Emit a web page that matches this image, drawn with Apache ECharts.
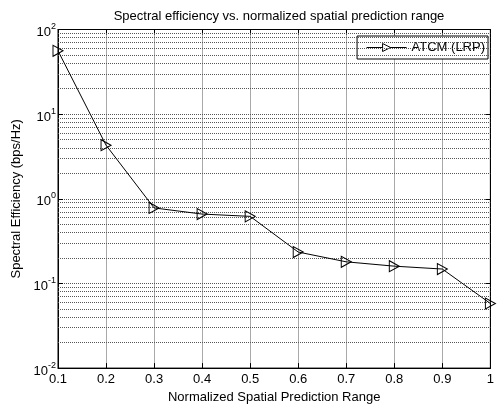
<!DOCTYPE html>
<html>
<head>
<meta charset="utf-8">
<script src="https://cdn.jsdelivr.net/npm/echarts@6/dist/echarts.min.js"></script>
<style>
  html, body { margin: 0; padding: 0; background: #fff; }
  #chart { width: 497px; height: 409px; }
</style>
</head>
<body>
<div id="chart"></div>
<script>
// Normalized spatial prediction range (x) and spectral efficiency (bps/Hz)
const rangeValues = [0.1, 0.2, 0.3, 0.4, 0.5, 0.6, 0.7, 0.8, 0.9, 1.0];
const efficiency = [56, 4.3, 0.78, 0.66, 0.62, 0.235, 0.18, 0.16, 0.148, 0.058];
const seriesName = 'ATCM (LRP)';

// Log-axis decades and the intermediate (2..9) gridline multipliers
const decadeExponents = [-2, -1, 0, 1];
const minorMultipliers = [2, 3, 4, 5, 6, 7, 8, 9];

const FONT = 'Liberation Sans, Arial, Helvetica, sans-serif';
const GRID_STYLE = { color: '#555', width: 1, type: [1, 1] };

const minorGridLines = [];
decadeExponents.forEach(function (e) {
  minorMultipliers.forEach(function (m) {
    minorGridLines.push({ yAxis: m * Math.pow(10, e) });
  });
});

const points = rangeValues.map(function (x, i) { return [x, efficiency[i]]; });

const chart = echarts.init(document.getElementById('chart'), null, { renderer: 'canvas' });

chart.setOption({
  animation: false,
  backgroundColor: '#fff',
  textStyle: { fontFamily: FONT },
  title: {
    text: 'Spectral efficiency vs. normalized spatial prediction range',
    left: 274,
    top: 5,
    textAlign: 'center',
    textStyle: { fontSize: 13, fontWeight: 'normal', color: '#000', fontFamily: FONT }
  },
  legend: {
    data: [seriesName],
    right: 9,
    top: 36,
    orient: 'vertical',
    backgroundColor: '#fff',
    borderColor: '#000',
    borderWidth: 1,
    borderRadius: 0,
    padding: [5, 3, 5, 9],
    itemWidth: 40,
    itemHeight: 10,
    itemGap: 0,
    itemStyle: { color: '#fff', borderColor: '#000', borderWidth: 1 },
    lineStyle: { color: '#000', width: 1 },
    textStyle: { fontSize: 13, color: '#000', fontFamily: FONT }
  },
  grid: {
    left: 58,
    right: 6,
    top: 29.5,
    bottom: 38.5,
    show: true,
    borderColor: '#000',
    borderWidth: 1,
    backgroundColor: '#fff'
  },
  xAxis: [{
    type: 'value',
    min: 0.1,
    max: 1,
    interval: 0.1,
    name: 'Normalized Spatial Prediction Range',
    nameLocation: 'middle',
    nameGap: 21,
    nameTextStyle: { fontSize: 13, color: '#000', fontFamily: FONT },
    axisLine: { show: true, lineStyle: { color: '#000', width: 1 } },
    axisTick: { show: true, inside: true, length: 5, lineStyle: { color: '#000' } },
    axisLabel: {
      fontSize: 13, color: '#000', margin: 5, fontFamily: FONT,
      formatter: function (v) { return v === 1 ? '1' : v.toFixed(1); }
    },
    splitLine: { show: true, lineStyle: GRID_STYLE }
  }, {
    type: 'value',
    position: 'top',
    min: 0.1,
    max: 1,
    interval: 0.1,
    axisLine: { show: true, lineStyle: { color: '#000', width: 1 } },
    axisTick: { show: true, inside: true, length: 5, lineStyle: { color: '#000' } },
    axisLabel: { show: false },
    splitLine: { show: false }
  }],
  yAxis: [{
    type: 'log',
    logBase: 10,
    min: 0.01,
    max: 100,
    interval: 1,
    name: 'Spectral Efficiency (bps/Hz)',
    nameLocation: 'middle',
    nameGap: 32,
    nameTextStyle: { fontSize: 13, color: '#000', fontFamily: FONT },
    axisLine: { show: true, lineStyle: { color: '#000', width: 1 } },
    axisTick: { show: true, inside: true, length: 5, lineStyle: { color: '#000' } },
    axisLabel: {
      margin: 2,
      fontFamily: FONT,
      formatter: function (v) {
        const e = Math.round(Math.log10(v));
        return '{base|10}{sup|' + e + '}';
      },
      rich: {
        base: { fontSize: 13, color: '#000', fontFamily: FONT, lineHeight: 15, padding: [6, 0, 0, 0] },
        sup: { fontSize: 9, color: '#000', fontFamily: FONT, lineHeight: 11, verticalAlign: 'top' }
      }
    },
    splitLine: { show: true, lineStyle: GRID_STYLE }
  }, {
    type: 'log',
    logBase: 10,
    min: 0.01,
    max: 100,
    interval: 1,
    position: 'right',
    axisLine: { show: true, lineStyle: { color: '#000', width: 1 } },
    axisTick: { show: true, inside: true, length: 5, lineStyle: { color: '#000' } },
    axisLabel: { show: false },
    splitLine: { show: false }
  }],
  series: [{
    // carrier for the intermediate log gridlines
    name: 'grid',
    type: 'line',
    data: points,
    silent: true,
    showSymbol: false,
    symbol: 'none',
    lineStyle: { opacity: 0 },
    z: 1,
    markLine: {
      silent: true,
      symbol: ['none', 'none'],
      label: { show: false },
      animation: false,
      lineStyle: GRID_STYLE,
      emphasis: { disabled: true },
      data: minorGridLines
    }
  }, {
    name: seriesName,
    type: 'line',
    data: points,
    clip: false,
    z: 5,
    symbol: 'triangle',
    symbolRotate: -90,
    symbolSize: [11, 10],
    showAllSymbol: true,
    lineStyle: { color: '#000', width: 1 },
    itemStyle: { color: 'rgba(0,0,0,0)', borderColor: '#000', borderWidth: 1 },
    emphasis: { disabled: true }
  }]
});
</script>
</body>
</html>
